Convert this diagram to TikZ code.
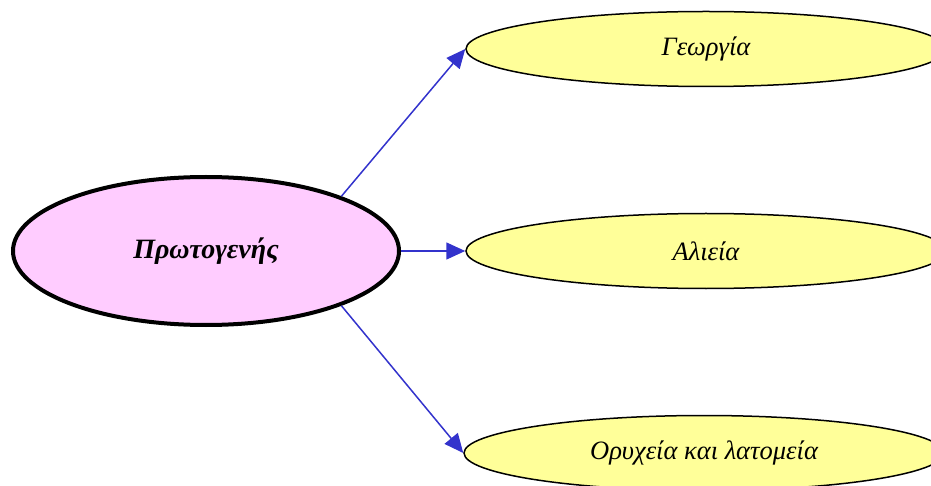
\documentclass[tikz,border=0pt]{standalone}
\usepackage{fontspec}
\setmainfont{Liberation Serif}
\usetikzlibrary{shapes.geometric,arrows.meta}
\definecolor{pinkfill}{HTML}{FFCCFF}
\definecolor{yelfill}{HTML}{FFFF99}
\definecolor{arrblue}{HTML}{3333CC}
\tikzset{
  px/.style={x=1pt,y=-1pt},
  rootnode/.style={ellipse,draw=black,line width=4pt,fill=pinkfill,minimum width=386pt,minimum height=148pt,inner sep=0pt,font=\fontsize{28}{32}\selectfont\bfseries\itshape},
  leafnode/.style={ellipse,draw=black,line width=1.5pt,fill=yelfill,minimum width=480pt,minimum height=75pt,inner sep=0pt,font=\fontsize{26.5}{30}\selectfont\itshape},
  conn/.style={draw=arrblue,line width=1.5pt,-{Triangle[length=19pt,width=17pt]}}
}
\begin{document}
\begin{tikzpicture}[px]
\useasboundingbox (0,0) rectangle (931,486);
\clip (0,0) rectangle (931,486);
\node[rootnode] (P) at (206,251) {Πρωτογενής};
\node[leafnode] (G) at (706,49) {Γεωργία};
\node[leafnode] (A) at (706,251) {Αλιεία};
\node[leafnode] (O) at (704,453) {Ορυχεία και λατομεία};
\draw[conn] (P.22) -- (G.west);
\draw[conn] (P.east) -- (A.west);
\draw[conn] (P.-22) -- (O.west);
\end{tikzpicture}
\end{document}
